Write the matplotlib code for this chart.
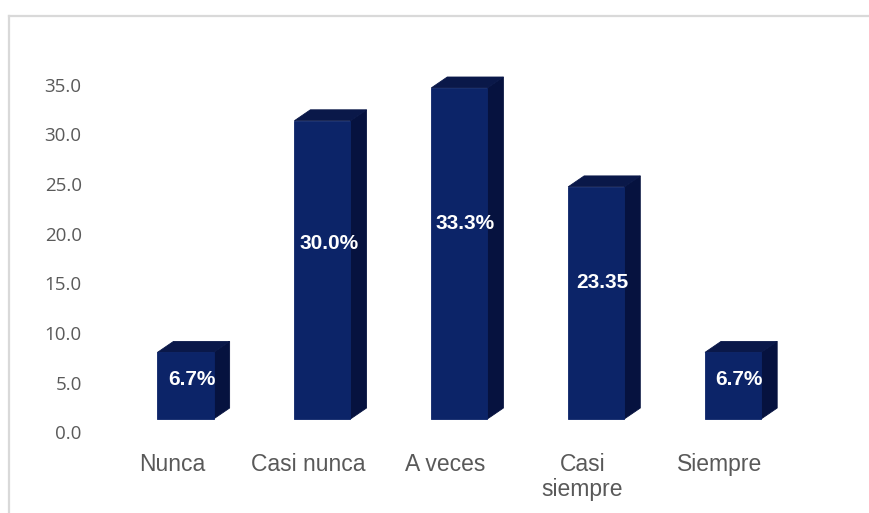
import numpy as np
import matplotlib
matplotlib.use("Agg")
import matplotlib.pyplot as plt
from matplotlib.patches import Polygon
from matplotlib.lines import Line2D

categorias = ["Nunca", "Casi nunca", "A veces", "Casi\nsiempre", "Siempre"]
valores = [6.7, 30.0, 33.3, 23.35, 6.7]
etiquetas = ["6.7%", "30.0%", "33.3%", "23.35", "6.7%"]

# colores de las caras de la barra 3d
frente = "#0c2468"
lado = "#06123f"
tapa = "#0a1849"

ancho = 0.41
prof_x = 0.117   # desplazamiento en x de la cara lateral
prof_y = 1.1     # desplazamiento en y de la cara lateral
base = 1.36      # el frente de la barra queda un poco por encima del 0

fig = plt.figure(figsize=(8.7, 5.13), dpi=100)
ax = fig.add_axes([90 / 870, 68 / 513, 770 / 870, 385 / 513])

x = np.arange(len(categorias))
ax.bar(x, valores, width=ancho, bottom=base, color=frente,
       edgecolor=frente, linewidth=0.6, zorder=3)

for xi, v in zip(x, valores):
    der = xi + ancho / 2
    izq = xi - ancho / 2
    arriba = base + v
    cara_lado = Polygon([(der, base), (der + prof_x, base + prof_y),
                         (der + prof_x, arriba + prof_y), (der, arriba)],
                        closed=True, facecolor=lado, edgecolor=lado,
                        linewidth=0.6, zorder=2)
    cara_tapa = Polygon([(izq, arriba), (izq + prof_x, arriba + prof_y),
                         (der + prof_x, arriba + prof_y), (der, arriba)],
                        closed=True, facecolor=tapa, edgecolor=tapa,
                        linewidth=0.6, zorder=2)
    ax.add_patch(cara_lado)
    ax.add_patch(cara_tapa)

for xi, v, txt in zip(x, valores, etiquetas):
    ax.text(xi + 0.045, base + 0.59 * v, txt, ha="center", va="center",
            color="white", fontsize=15, fontweight="bold",
            family="Liberation Sans", zorder=5)

ax.set_xlim(-0.698, 4.927)
ax.set_ylim(-1.26, 37.47)

ax.set_yticks(np.arange(0, 36, 5))
ax.set_yticklabels([f"{t:.1f}" for t in np.arange(0, 36, 5)],
                   fontsize=13.5, color="#5a5a5a", family="Open Sans")
ax.set_xticks(x - 0.1)
ax.set_xticklabels(categorias, fontsize=16.5, color="#595959",
                   family="Liberation Sans", linespacing=1.1)
ax.tick_params(axis="y", length=0, pad=6)
ax.tick_params(axis="x", length=0, pad=6)

for s in ax.spines.values():
    s.set_visible(False)

# borde gris del area del grafico
fig.add_artist(Line2D([9 / 870, 1], [1 - 16 / 513, 1 - 16 / 513],
                      transform=fig.transFigure, color="#d9d9d9", lw=1.6))
fig.add_artist(Line2D([9 / 870, 9 / 870], [0, 1 - 16 / 513],
                      transform=fig.transFigure, color="#d9d9d9", lw=1.6))

fig.savefig("out.png", dpi=100)
